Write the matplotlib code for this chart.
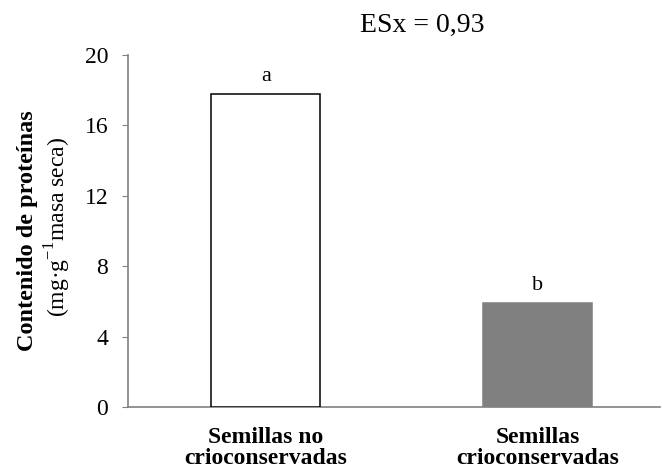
import matplotlib
matplotlib.use("Agg")
import matplotlib.pyplot as plt

plt.rcParams['font.family'] = ['Liberation Serif', 'DejaVu Serif']
plt.rcParams['mathtext.fontset'] = 'custom'
plt.rcParams['mathtext.rm'] = 'Liberation Serif'

categories = ["Semillas no\ncrioconservadas", "Semillas\ncrioconservadas"]
values = [17.8, 5.9]
letters = ["a", "b"]
colors = ["white", "#808080"]
edges = ["black", "#808080"]
yticks = [0, 4, 8, 12, 16, 20]

fig = plt.figure(figsize=(6.62, 4.69), dpi=100)
ax = fig.add_axes([0.193, 0.132, 0.804, 0.751])

x = list(range(len(categories)))
ax.bar(x, values, width=0.4, color=colors, edgecolor=edges, linewidth=1.1, zorder=3)

for xi, v, l in zip(x, values, letters):
    ax.text(xi, v + 0.45, l, ha='center', va='bottom', fontsize=16)

ax.set_xlim(-0.507, 1.449)
ax.set_ylim(0, 20)
ax.set_yticks(yticks)
ax.set_yticklabels([str(t) for t in yticks], fontsize=17)
ax.set_xticks(x)
ax.set_xticklabels(categories, fontsize=17, fontweight='bold', linespacing=1.0)
ax.tick_params(axis='x', length=0, pad=14)
ax.tick_params(axis='y', direction='out', length=4, color='#808080', pad=10)

for s in ['top', 'right']:
    ax.spines[s].set_visible(False)
for s in ['left', 'bottom']:
    ax.spines[s].set_color('#808080')
    ax.spines[s].set_linewidth(1.2)

fig.text(28 / 662, 1 - 231 / 469, "Contenido de proteínas", rotation=90,
         ha='center', va='center', fontsize=17.5, fontweight='bold')
fig.text(58 / 662, 1 - 227 / 469, "(mg·g$^{-1}$masa seca)", rotation=90,
         ha='center', va='center', fontsize=17)

fig.text(422 / 662, 1 - 25 / 469, "ESx = 0,93", ha='center', va='center', fontsize=20)

fig.savefig("out.png", dpi=100)
